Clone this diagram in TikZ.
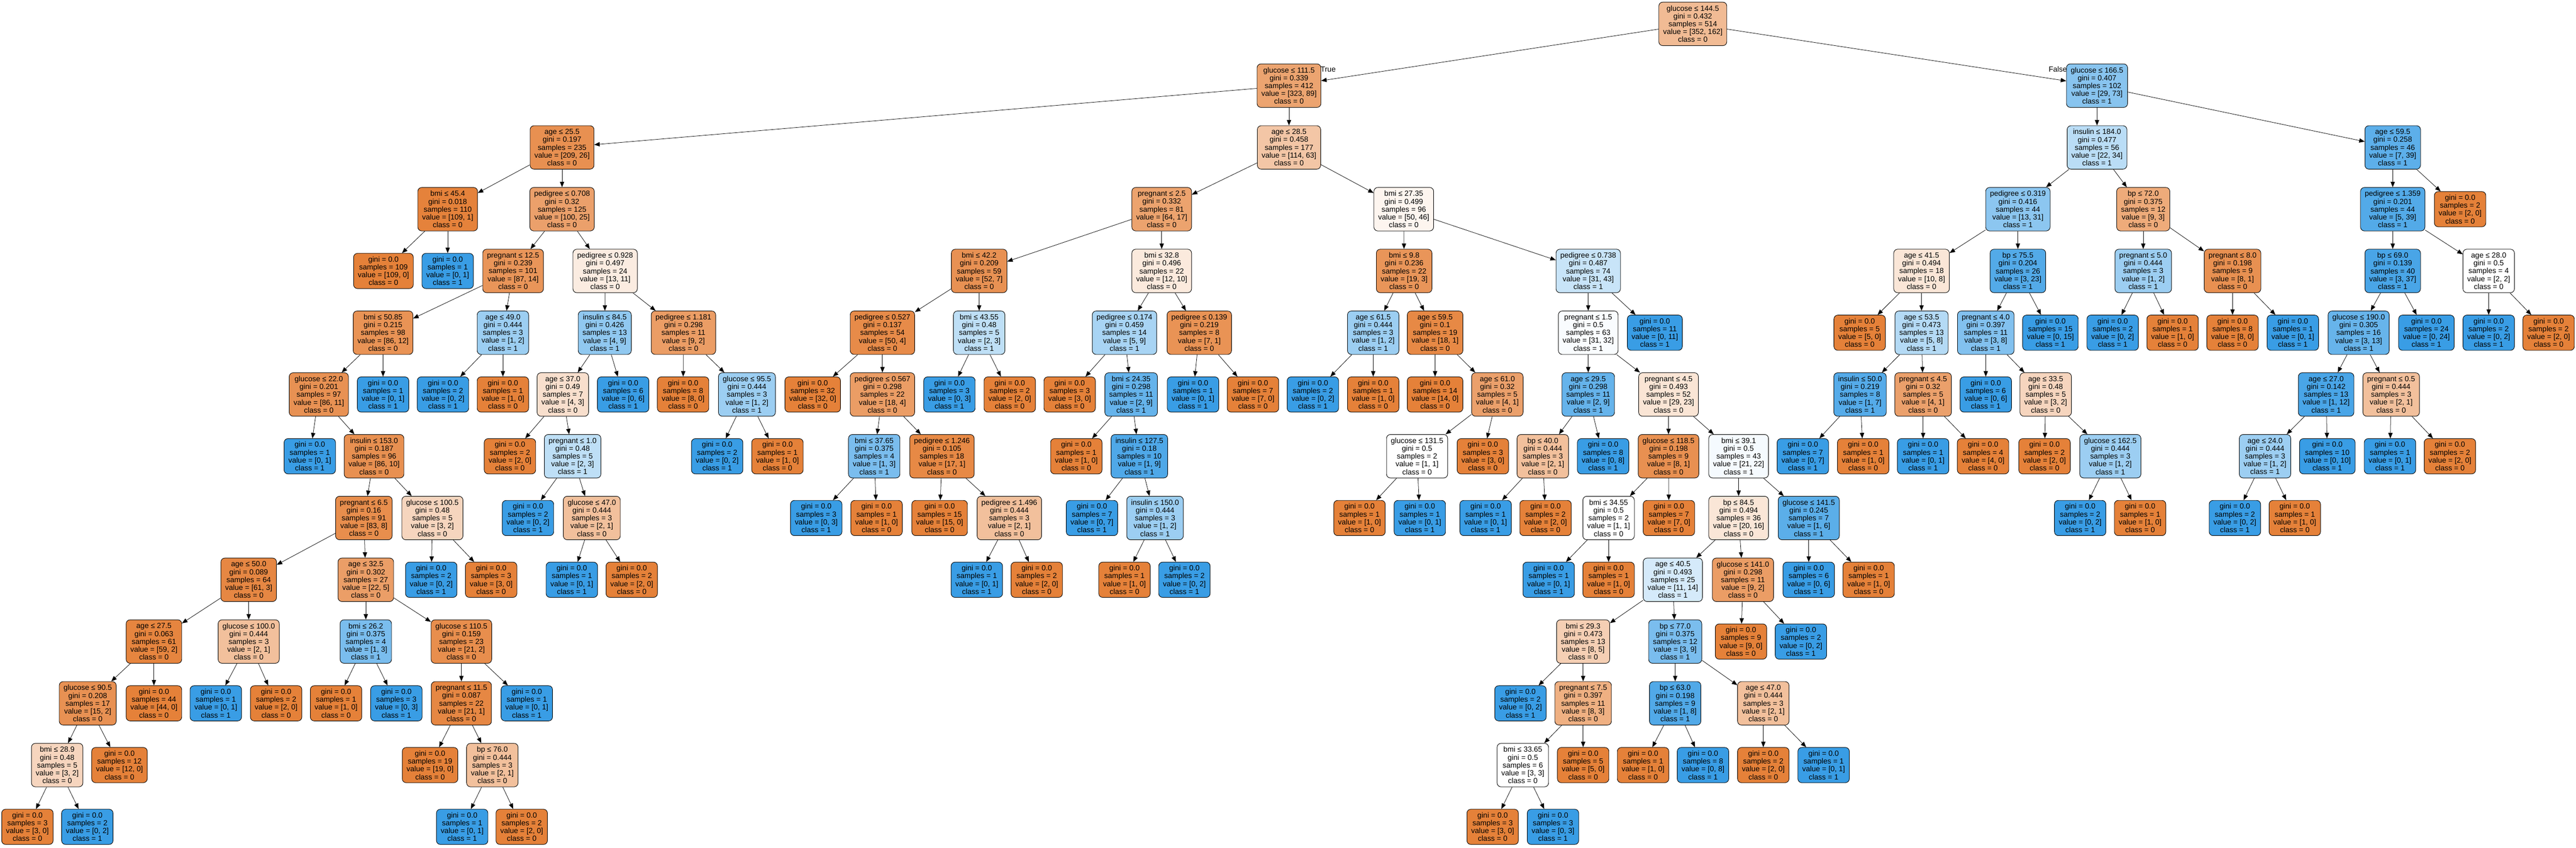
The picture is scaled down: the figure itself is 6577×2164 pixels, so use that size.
\documentclass[tikz,border=0pt]{standalone}
\usepackage{fontspec}
\setmainfont{Liberation Sans}
\usetikzlibrary{arrows.meta}
\definecolor{cA}{RGB}{229,129,57}
\definecolor{cB}{RGB}{57,157,229}
\newcommand\IN[7]{%
  \pgfmathtruncatemacro\mypct{round(100*(1-min(#6,#7)/max(#6,#7)))}%
  \ifnum#6<#7\relax\def\mycls{1}\def\myhue{cB}\else\def\mycls{0}\def\myhue{cA}\fi
  \node[tbox, minimum height=55.5pt, fill=\myhue!\mypct!white] (#1) at (#2,{61+157.7*#3})
    {#4\\gini = #5\\samples = \the\numexpr#6+#7\relax\\value = [#6, #7]\\class = \mycls};}
\newcommand\LF[5]{%
  \ifnum#4<#5\relax\def\mycls{1}\def\myhue{cB}\else\def\mycls{0}\def\myhue{cA}\fi
  \node[tbox, minimum height=45pt, fill=\myhue] (#1) at (#2,{61+157.7*#3})
    {gini = 0.0\\samples = \the\numexpr#4+#5\relax\\value = [#4, #5]\\class = \mycls};}
\newcommand\edg[2]{\draw[edge] (#1) -- (#2);}
\begin{document}
\begin{tikzpicture}[x=0.5pt,y=-0.5pt,
  tbox/.style={draw=black, line width=0.6pt, rounded corners=5pt, align=center,
    inner xsep=5.5pt, inner ysep=2pt, font=\fontsize{9.5pt}{10pt}\selectfont},
  edge/.style={line width=0.5pt, -{Triangle[length=7pt,width=5.5pt]}},
  lbl/.style={font=\fontsize{9.5pt}{10pt}\selectfont, inner sep=0pt}]
\fill[white] (0,0) rectangle (6577,2164);
\useasboundingbox (0,0) rectangle (6577,2164);
% L0
\IN{r}{4322}{0}{glucose ≤ 144.5}{0.432}{352}{162}
% L1
\IN{g111}{3291}{1}{glucose ≤ 111.5}{0.339}{323}{89}
\IN{g166}{5354}{1}{glucose ≤ 166.5}{0.407}{29}{73}
% L2
\IN{a25}{1435}{2}{age ≤ 25.5}{0.197}{209}{26}
\IN{a28}{3291}{2}{age ≤ 28.5}{0.458}{114}{63}
\IN{i184}{5354}{2}{insulin ≤ 184.0}{0.477}{22}{34}
\IN{a59}{6109}{2}{age ≤ 59.5}{0.258}{7}{39}
% L3
\IN{b45}{1143}{3}{bmi ≤ 45.4}{0.018}{109}{1}
\IN{p708}{1435}{3}{pedigree ≤ 0.708}{0.32}{100}{25}
\IN{pr25}{2966}{3}{pregnant ≤ 2.5}{0.332}{64}{17}
\IN{b2735}{3584}{3}{bmi ≤ 27.35}{0.499}{50}{46}
\IN{p319}{5152}{3}{pedigree ≤ 0.319}{0.416}{13}{31}
\IN{bp72}{5472}{3}{bp ≤ 72.0}{0.375}{9}{3}
\IN{p1359}{6109}{3}{pedigree ≤ 1.359}{0.201}{5}{39}
\LF{l3a}{6281}{3}{2}{0}
% L4
\LF{l4a}{979}{4}{109}{0}
\LF{l4b}{1143}{4}{0}{1}
\IN{pr125}{1310}{4}{pregnant ≤ 12.5}{0.239}{87}{14}
\IN{p928}{1545}{4}{pedigree ≤ 0.928}{0.497}{13}{11}
\IN{b422}{2500}{4}{bmi ≤ 42.2}{0.209}{52}{7}
\IN{b328}{2966}{4}{bmi ≤ 32.8}{0.496}{12}{10}
\IN{b98}{3585}{4}{bmi ≤ 9.8}{0.236}{19}{3}
\IN{p738}{4055}{4}{pedigree ≤ 0.738}{0.487}{31}{43}
\IN{a415}{4906}{4}{age ≤ 41.5}{0.494}{10}{8}
\IN{bp755}{5152}{4}{bp ≤ 75.5}{0.204}{3}{23}
\IN{pr50}{5472}{4}{pregnant ≤ 5.0}{0.444}{1}{2}
\IN{pr80}{5700}{4}{pregnant ≤ 8.0}{0.198}{8}{1}
\IN{bp69}{6109}{4}{bp ≤ 69.0}{0.139}{3}{37}
\IN{a280}{6354}{4}{age ≤ 28.0}{0.5}{2}{2}
% L5
\IN{b5085}{978}{5}{bmi ≤ 50.85}{0.215}{86}{12}
\IN{a490}{1284}{5}{age ≤ 49.0}{0.444}{1}{2}
\IN{i845}{1544}{5}{insulin ≤ 84.5}{0.426}{4}{9}
\IN{p1181}{1745}{5}{pedigree ≤ 1.181}{0.298}{9}{2}
\IN{p527}{2253}{5}{pedigree ≤ 0.527}{0.137}{50}{4}
\IN{b4355}{2500}{5}{bmi ≤ 43.55}{0.48}{2}{3}
\IN{p174}{2871}{5}{pedigree ≤ 0.174}{0.459}{5}{9}
\IN{p139}{3062}{5}{pedigree ≤ 0.139}{0.219}{7}{1}
\IN{a615}{3506}{5}{age ≤ 61.5}{0.444}{1}{2}
\IN{a595}{3664}{5}{age ≤ 59.5}{0.1}{18}{1}
\IN{pr15}{4055}{5}{pregnant ≤ 1.5}{0.5}{31}{32}
\LF{l5a}{4225}{5}{0}{11}
\LF{l5b}{4748}{5}{5}{0}
\IN{a535}{4906}{5}{age ≤ 53.5}{0.473}{5}{8}
\IN{pr40}{5070}{5}{pregnant ≤ 4.0}{0.397}{3}{8}
\LF{l5c}{5235}{5}{0}{15}
\LF{l5d}{5394}{5}{0}{2}
\LF{l5e}{5547}{5}{1}{0}
\LF{l5f}{5700}{5}{8}{0}
\LF{l5g}{5854}{5}{0}{1}
\IN{g190}{6022}{5}{glucose ≤ 190.0}{0.305}{3}{13}
\LF{l5h}{6195}{5}{0}{24}
\LF{l5i}{6354}{5}{0}{2}
\LF{l5j}{6507}{5}{2}{0}
% L6
\IN{g220}{814}{6}{glucose ≤ 22.0}{0.201}{86}{11}
\LF{l6a}{978}{6}{0}{1}
\LF{l6b}{1131}{6}{0}{2}
\LF{l6c}{1284}{6}{1}{0}
\IN{a370}{1437}{6}{age ≤ 37.0}{0.49}{4}{3}
\LF{l6d}{1591}{6}{0}{6}
\LF{l6e}{1744}{6}{8}{0}
\IN{g955}{1907}{6}{glucose ≤ 95.5}{0.444}{1}{2}
\LF{l6f}{2075}{6}{32}{0}
\IN{p567}{2253}{6}{pedigree ≤ 0.567}{0.298}{18}{4}
\LF{l6g}{2424}{6}{0}{3}
\LF{l6h}{2578}{6}{2}{0}
\LF{l6i}{2731}{6}{3}{0}
\IN{b2435}{2888}{6}{bmi ≤ 24.35}{0.298}{2}{9}
\LF{l6j}{3046}{6}{0}{1}
\LF{l6k}{3199}{6}{7}{0}
\LF{l6l}{3352}{6}{0}{2}
\LF{l6m}{3506}{6}{1}{0}
\LF{l6n}{3664}{6}{14}{0}
\IN{a610}{3823}{6}{age ≤ 61.0}{0.32}{4}{1}
\IN{a295}{4055}{6}{age ≤ 29.5}{0.298}{2}{9}
\IN{pr45}{4260}{6}{pregnant ≤ 4.5}{0.493}{29}{23}
\IN{i500}{4749}{6}{insulin ≤ 50.0}{0.219}{1}{7}
\IN{pr45b}{4910}{6}{pregnant ≤ 4.5}{0.32}{4}{1}
\LF{l6o}{5070}{6}{0}{6}
\IN{a335}{5223}{6}{age ≤ 33.5}{0.48}{3}{2}
\IN{a270}{5939}{6}{age ≤ 27.0}{0.142}{1}{12}
\IN{pr05}{6105}{6}{pregnant ≤ 0.5}{0.444}{2}{1}
% L7
\LF{l7a}{791}{7}{0}{1}
\IN{i153}{955}{7}{insulin ≤ 153.0}{0.187}{86}{10}
\LF{l7b}{1302}{7}{2}{0}
\IN{pr10}{1462}{7}{pregnant ≤ 1.0}{0.48}{2}{3}
\LF{l7c}{1831}{7}{0}{2}
\LF{l7d}{1985}{7}{1}{0}
\IN{b3765}{2232}{7}{bmi ≤ 37.65}{0.375}{1}{3}
\IN{p1246}{2405}{7}{pedigree ≤ 1.246}{0.105}{17}{1}
\LF{l7e}{2748}{7}{1}{0}
\IN{i1275}{2909}{7}{insulin ≤ 127.5}{0.18}{1}{9}
\IN{g1315}{3618}{7}{glucose ≤ 131.5}{0.5}{1}{1}
\LF{l7f}{3786}{7}{3}{0}
\IN{bp40}{3939}{7}{bp ≤ 40.0}{0.444}{2}{1}
\LF{l7g}{4093}{7}{0}{8}
\IN{g1185}{4260}{7}{glucose ≤ 118.5}{0.198}{8}{1}
\IN{b391}{4439}{7}{bmi ≤ 39.1}{0.5}{21}{22}
\LF{l7h}{4603}{7}{0}{7}
\LF{l7i}{4757}{7}{1}{0}
\LF{l7j}{4910}{7}{0}{1}
\LF{l7k}{5063}{7}{4}{0}
\LF{l7l}{5220}{7}{2}{0}
\IN{g1625}{5388}{7}{glucose ≤ 162.5}{0.444}{1}{2}
\IN{a240}{5783}{7}{age ≤ 24.0}{0.444}{1}{2}
\LF{l7m}{5942}{7}{0}{10}
\LF{l7n}{6102}{7}{0}{1}
\LF{l7o}{6255}{7}{2}{0}
% L8
\IN{pr65}{929}{8}{pregnant ≤ 6.5}{0.16}{83}{8}
\IN{g1005}{1104}{8}{glucose ≤ 100.5}{0.48}{3}{2}
\LF{l8a}{1348}{8}{0}{2}
\IN{g470}{1511}{8}{glucose ≤ 47.0}{0.444}{2}{1}
\LF{l8b}{2084}{8}{0}{3}
\LF{l8c}{2238}{8}{1}{0}
\LF{l8d}{2399}{8}{15}{0}
\IN{p1496}{2577}{8}{pedigree ≤ 1.496}{0.444}{2}{1}
\LF{l8e}{2788}{8}{0}{7}
\IN{i1500}{2949}{8}{insulin ≤ 150.0}{0.444}{1}{2}
\LF{l8f}{3471}{8}{1}{0}
\LF{l8g}{3625}{8}{0}{1}
\LF{l8h}{3793}{8}{0}{1}
\LF{l8i}{3946}{8}{2}{0}
\IN{b3455}{4107}{8}{bmi ≤ 34.55}{0.5}{1}{1}
\LF{l8j}{4261}{8}{7}{0}
\IN{bp845}{4439}{8}{bp ≤ 84.5}{0.494}{20}{16}
\IN{g1415}{4618}{8}{glucose ≤ 141.5}{0.245}{1}{6}
\LF{l8k}{5311}{8}{0}{2}
\LF{l8l}{5464}{8}{1}{0}
\LF{l8m}{5706}{8}{0}{2}
\LF{l8n}{5859}{8}{1}{0}
% L9
\IN{a500}{635}{9}{age ≤ 50.0}{0.089}{61}{3}
\IN{a325}{934}{9}{age ≤ 32.5}{0.302}{22}{5}
\LF{l9a}{1101}{9}{0}{2}
\LF{l9b}{1254}{9}{3}{0}
\LF{l9c}{1460}{9}{0}{1}
\LF{l9d}{1613}{9}{2}{0}
\LF{l9e}{2494}{9}{0}{1}
\LF{l9f}{2647}{9}{2}{0}
\LF{l9g}{2871}{9}{1}{0}
\LF{l9h}{3024}{9}{0}{2}
\LF{l9i}{3954}{9}{0}{1}
\LF{l9j}{4107}{9}{1}{0}
\IN{a405}{4271}{9}{age ≤ 40.5}{0.493}{11}{14}
\IN{g1410}{4450}{9}{glucose ≤ 141.0}{0.298}{9}{2}
\LF{l9k}{4618}{9}{0}{6}
\LF{l9l}{4771}{9}{1}{0}
% L10
\IN{a275}{393}{10}{age ≤ 27.5}{0.063}{59}{2}
\IN{g1000}{635}{10}{glucose ≤ 100.0}{0.444}{2}{1}
\IN{b262}{934}{10}{bmi ≤ 26.2}{0.375}{1}{3}
\IN{g1105}{1178}{10}{glucose ≤ 110.5}{0.159}{21}{2}
\IN{b293}{4042}{10}{bmi ≤ 29.3}{0.473}{8}{5}
\IN{bp770}{4277}{10}{bp ≤ 77.0}{0.375}{3}{9}
\LF{l10a}{4445}{10}{9}{0}
\LF{l10b}{4598}{10}{0}{2}
% L11
\IN{g905}{224}{11}{glucose ≤ 90.5}{0.208}{15}{2}
\LF{l11a}{393}{11}{44}{0}
\LF{l11b}{551}{11}{0}{1}
\LF{l11c}{705}{11}{2}{0}
\LF{l11d}{858}{11}{1}{0}
\LF{l11e}{1012}{11}{0}{3}
\IN{pr115}{1178}{11}{pregnant ≤ 11.5}{0.087}{21}{1}
\LF{l11f}{1345}{11}{0}{1}
\LF{l11g}{3882}{11}{0}{2}
\IN{pr75}{4042}{11}{pregnant ≤ 7.5}{0.397}{8}{3}
\IN{bp630}{4277}{11}{bp ≤ 63.0}{0.198}{1}{8}
\IN{a470}{4502}{11}{age ≤ 47.0}{0.444}{2}{1}
% L12
\IN{b289}{146}{12}{bmi ≤ 28.9}{0.48}{3}{2}
\LF{l12a}{305}{12}{12}{0}
\LF{l12b}{1098}{12}{19}{0}
\IN{bp760}{1257}{12}{bp ≤ 76.0}{0.444}{2}{1}
\IN{b3365}{3888}{12}{bmi ≤ 33.65}{0.5}{3}{3}
\LF{l12c}{4042}{12}{5}{0}
\LF{l12d}{4195}{12}{1}{0}
\LF{l12e}{4348}{12}{0}{8}
\LF{l12f}{4502}{12}{2}{0}
\LF{l12g}{4656}{12}{0}{1}
% L13
\LF{l13a}{70}{13}{3}{0}
\LF{l13b}{223}{13}{0}{2}
\LF{l13c}{1180}{13}{0}{1}
\LF{l13d}{1332}{13}{2}{0}
\LF{l13e}{3811}{13}{3}{0}
\LF{l13f}{3965}{13}{0}{3}
% labels
\node[lbl] (tlab) at (3391,177) {True};
\node[lbl] (flab) at (5254,177) {False};
% edges
\edg{r}{g111}\edg{r}{g166}
\edg{g111}{a25}\edg{g111}{a28}
\edg{g166}{i184}\edg{g166}{a59}
\edg{a25}{b45}\edg{a25}{p708}
\edg{a28}{pr25}\edg{a28}{b2735}
\edg{i184}{p319}\edg{i184}{bp72}
\edg{a59}{p1359}\edg{a59}{l3a}
\edg{b45}{l4a}\edg{b45}{l4b}
\edg{p708}{pr125}\edg{p708}{p928}
\edg{pr25}{b422}\edg{pr25}{b328}
\edg{b2735}{b98}\edg{b2735}{p738}
\edg{p319}{a415}\edg{p319}{bp755}
\edg{bp72}{pr50}\edg{bp72}{pr80}
\edg{p1359}{bp69}\edg{p1359}{a280}
\edg{pr125}{b5085}\edg{pr125}{a490}
\edg{p928}{i845}\edg{p928}{p1181}
\edg{b422}{p527}\edg{b422}{b4355}
\edg{b328}{p174}\edg{b328}{p139}
\edg{b98}{a615}\edg{b98}{a595}
\edg{p738}{pr15}\edg{p738}{l5a}
\edg{a415}{l5b}\edg{a415}{a535}
\edg{bp755}{pr40}\edg{bp755}{l5c}
\edg{pr50}{l5d}\edg{pr50}{l5e}
\edg{pr80}{l5f}\edg{pr80}{l5g}
\edg{bp69}{g190}\edg{bp69}{l5h}
\edg{a280}{l5i}\edg{a280}{l5j}
\edg{b5085}{g220}\edg{b5085}{l6a}
\edg{a490}{l6b}\edg{a490}{l6c}
\edg{i845}{a370}\edg{i845}{l6d}
\edg{p1181}{l6e}\edg{p1181}{g955}
\edg{p527}{l6f}\edg{p527}{p567}
\edg{b4355}{l6g}\edg{b4355}{l6h}
\edg{p174}{l6i}\edg{p174}{b2435}
\edg{p139}{l6j}\edg{p139}{l6k}
\edg{a615}{l6l}\edg{a615}{l6m}
\edg{a595}{l6n}\edg{a595}{a610}
\edg{pr15}{a295}\edg{pr15}{pr45}
\edg{a535}{i500}\edg{a535}{pr45b}
\edg{pr40}{l6o}\edg{pr40}{a335}
\edg{g190}{a270}\edg{g190}{pr05}
\edg{g220}{l7a}\edg{g220}{i153}
\edg{a370}{l7b}\edg{a370}{pr10}
\edg{g955}{l7c}\edg{g955}{l7d}
\edg{p567}{b3765}\edg{p567}{p1246}
\edg{b2435}{l7e}\edg{b2435}{i1275}
\edg{a610}{g1315}\edg{a610}{l7f}
\edg{a295}{bp40}\edg{a295}{l7g}
\edg{pr45}{g1185}\edg{pr45}{b391}
\edg{i500}{l7h}\edg{i500}{l7i}
\edg{pr45b}{l7j}\edg{pr45b}{l7k}
\edg{a335}{l7l}\edg{a335}{g1625}
\edg{a270}{a240}\edg{a270}{l7m}
\edg{pr05}{l7n}\edg{pr05}{l7o}
\edg{i153}{pr65}\edg{i153}{g1005}
\edg{pr10}{l8a}\edg{pr10}{g470}
\edg{b3765}{l8b}\edg{b3765}{l8c}
\edg{p1246}{l8d}\edg{p1246}{p1496}
\edg{i1275}{l8e}\edg{i1275}{i1500}
\edg{g1315}{l8f}\edg{g1315}{l8g}
\edg{bp40}{l8h}\edg{bp40}{l8i}
\edg{g1185}{b3455}\edg{g1185}{l8j}
\edg{b391}{bp845}\edg{b391}{g1415}
\edg{g1625}{l8k}\edg{g1625}{l8l}
\edg{a240}{l8m}\edg{a240}{l8n}
\edg{pr65}{a500}\edg{pr65}{a325}
\edg{g1005}{l9a}\edg{g1005}{l9b}
\edg{g470}{l9c}\edg{g470}{l9d}
\edg{p1496}{l9e}\edg{p1496}{l9f}
\edg{i1500}{l9g}\edg{i1500}{l9h}
\edg{b3455}{l9i}\edg{b3455}{l9j}
\edg{bp845}{a405}\edg{bp845}{g1410}
\edg{g1415}{l9k}\edg{g1415}{l9l}
\edg{a500}{a275}\edg{a500}{g1000}
\edg{a325}{b262}\edg{a325}{g1105}
\edg{a405}{b293}\edg{a405}{bp770}
\edg{g1410}{l10a}\edg{g1410}{l10b}
\edg{a275}{g905}\edg{a275}{l11a}
\edg{g1000}{l11b}\edg{g1000}{l11c}
\edg{b262}{l11d}\edg{b262}{l11e}
\edg{g1105}{pr115}\edg{g1105}{l11f}
\edg{b293}{l11g}\edg{b293}{pr75}
\edg{bp770}{bp630}\edg{bp770}{a470}
\edg{g905}{b289}\edg{g905}{l12a}
\edg{pr115}{l12b}\edg{pr115}{bp760}
\edg{pr75}{b3365}\edg{pr75}{l12c}
\edg{bp630}{l12d}\edg{bp630}{l12e}
\edg{a470}{l12f}\edg{a470}{l12g}
\edg{b289}{l13a}\edg{b289}{l13b}
\edg{bp760}{l13c}\edg{bp760}{l13d}
\edg{b3365}{l13e}\edg{b3365}{l13f}
\end{tikzpicture}
\end{document}
